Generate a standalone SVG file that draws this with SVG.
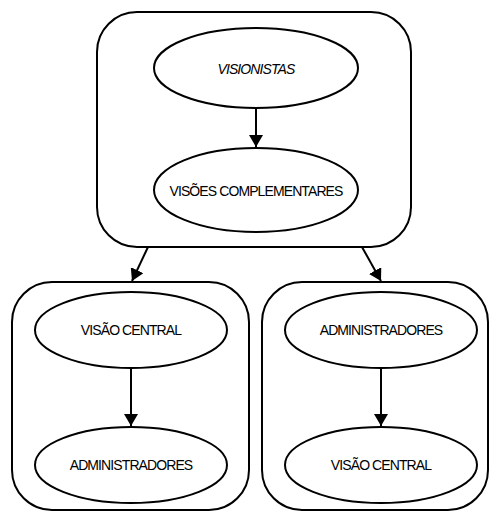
<svg xmlns="http://www.w3.org/2000/svg" width="490" height="512" viewBox="0 0 490 512">
<defs>
<marker id="ah" viewBox="0 0 12 14" refX="12" refY="7" markerWidth="6" markerHeight="7" markerUnits="strokeWidth" orient="auto">
<path d="M0,0 L12,7 L0,14 Z" fill="#000"/>
</marker>
<style>
.box{fill:#fff;stroke:#000;stroke-width:2}
.el{fill:#fff;stroke:#000;stroke-width:2}
.t{font-family:"Liberation Sans",Arial,sans-serif;font-size:14px;letter-spacing:-0.9px;text-anchor:middle;fill:#000}
.it{font-style:italic}
.c{stroke:#000;stroke-width:2;fill:none;marker-end:url(#ah)}
</style>
</defs>
<g id="group-top"><rect class="box" x="97" y="12" width="314" height="235" rx="40" ry="40"/></g>
<g id="group-left"><rect class="box" x="12" y="282" width="237" height="228" rx="40" ry="40"/></g>
<g id="group-right"><rect class="box" x="262" y="282" width="226" height="228" rx="40" ry="40"/></g>
<g id="node-visionistas"><ellipse class="el" cx="256" cy="68" rx="102" ry="40"/><text class="t it" x="256" y="74">VISIONISTAS</text></g>
<g id="node-visoes"><ellipse class="el" cx="256" cy="190" rx="102" ry="42"/><text class="t" x="256" y="196">VISÕES COMPLEMENTARES</text></g>
<g id="node-l-central"><ellipse class="el" cx="131" cy="330" rx="96" ry="38"/><text class="t" x="131" y="335">VISÃO CENTRAL</text></g>
<g id="node-l-admin"><ellipse class="el" cx="131" cy="465" rx="96" ry="38"/><text class="t" x="131" y="470">ADMINISTRADORES</text></g>
<g id="node-r-admin"><ellipse class="el" cx="381" cy="330" rx="96" ry="38"/><text class="t" x="381" y="335">ADMINISTRADORES</text></g>
<g id="node-r-central"><ellipse class="el" cx="381" cy="465" rx="96" ry="38"/><text class="t" x="381" y="470">VISÃO CENTRAL</text></g>
<g id="connectors">
<line class="c" x1="256" y1="108" x2="256" y2="147"/>
<line class="c" x1="148" y1="247" x2="132" y2="281"/>
<line class="c" x1="362" y1="247" x2="381" y2="281"/>
<line class="c" x1="131" y1="368" x2="131" y2="426"/>
<line class="c" x1="381" y1="368" x2="381" y2="426"/>
</g>
</svg>
